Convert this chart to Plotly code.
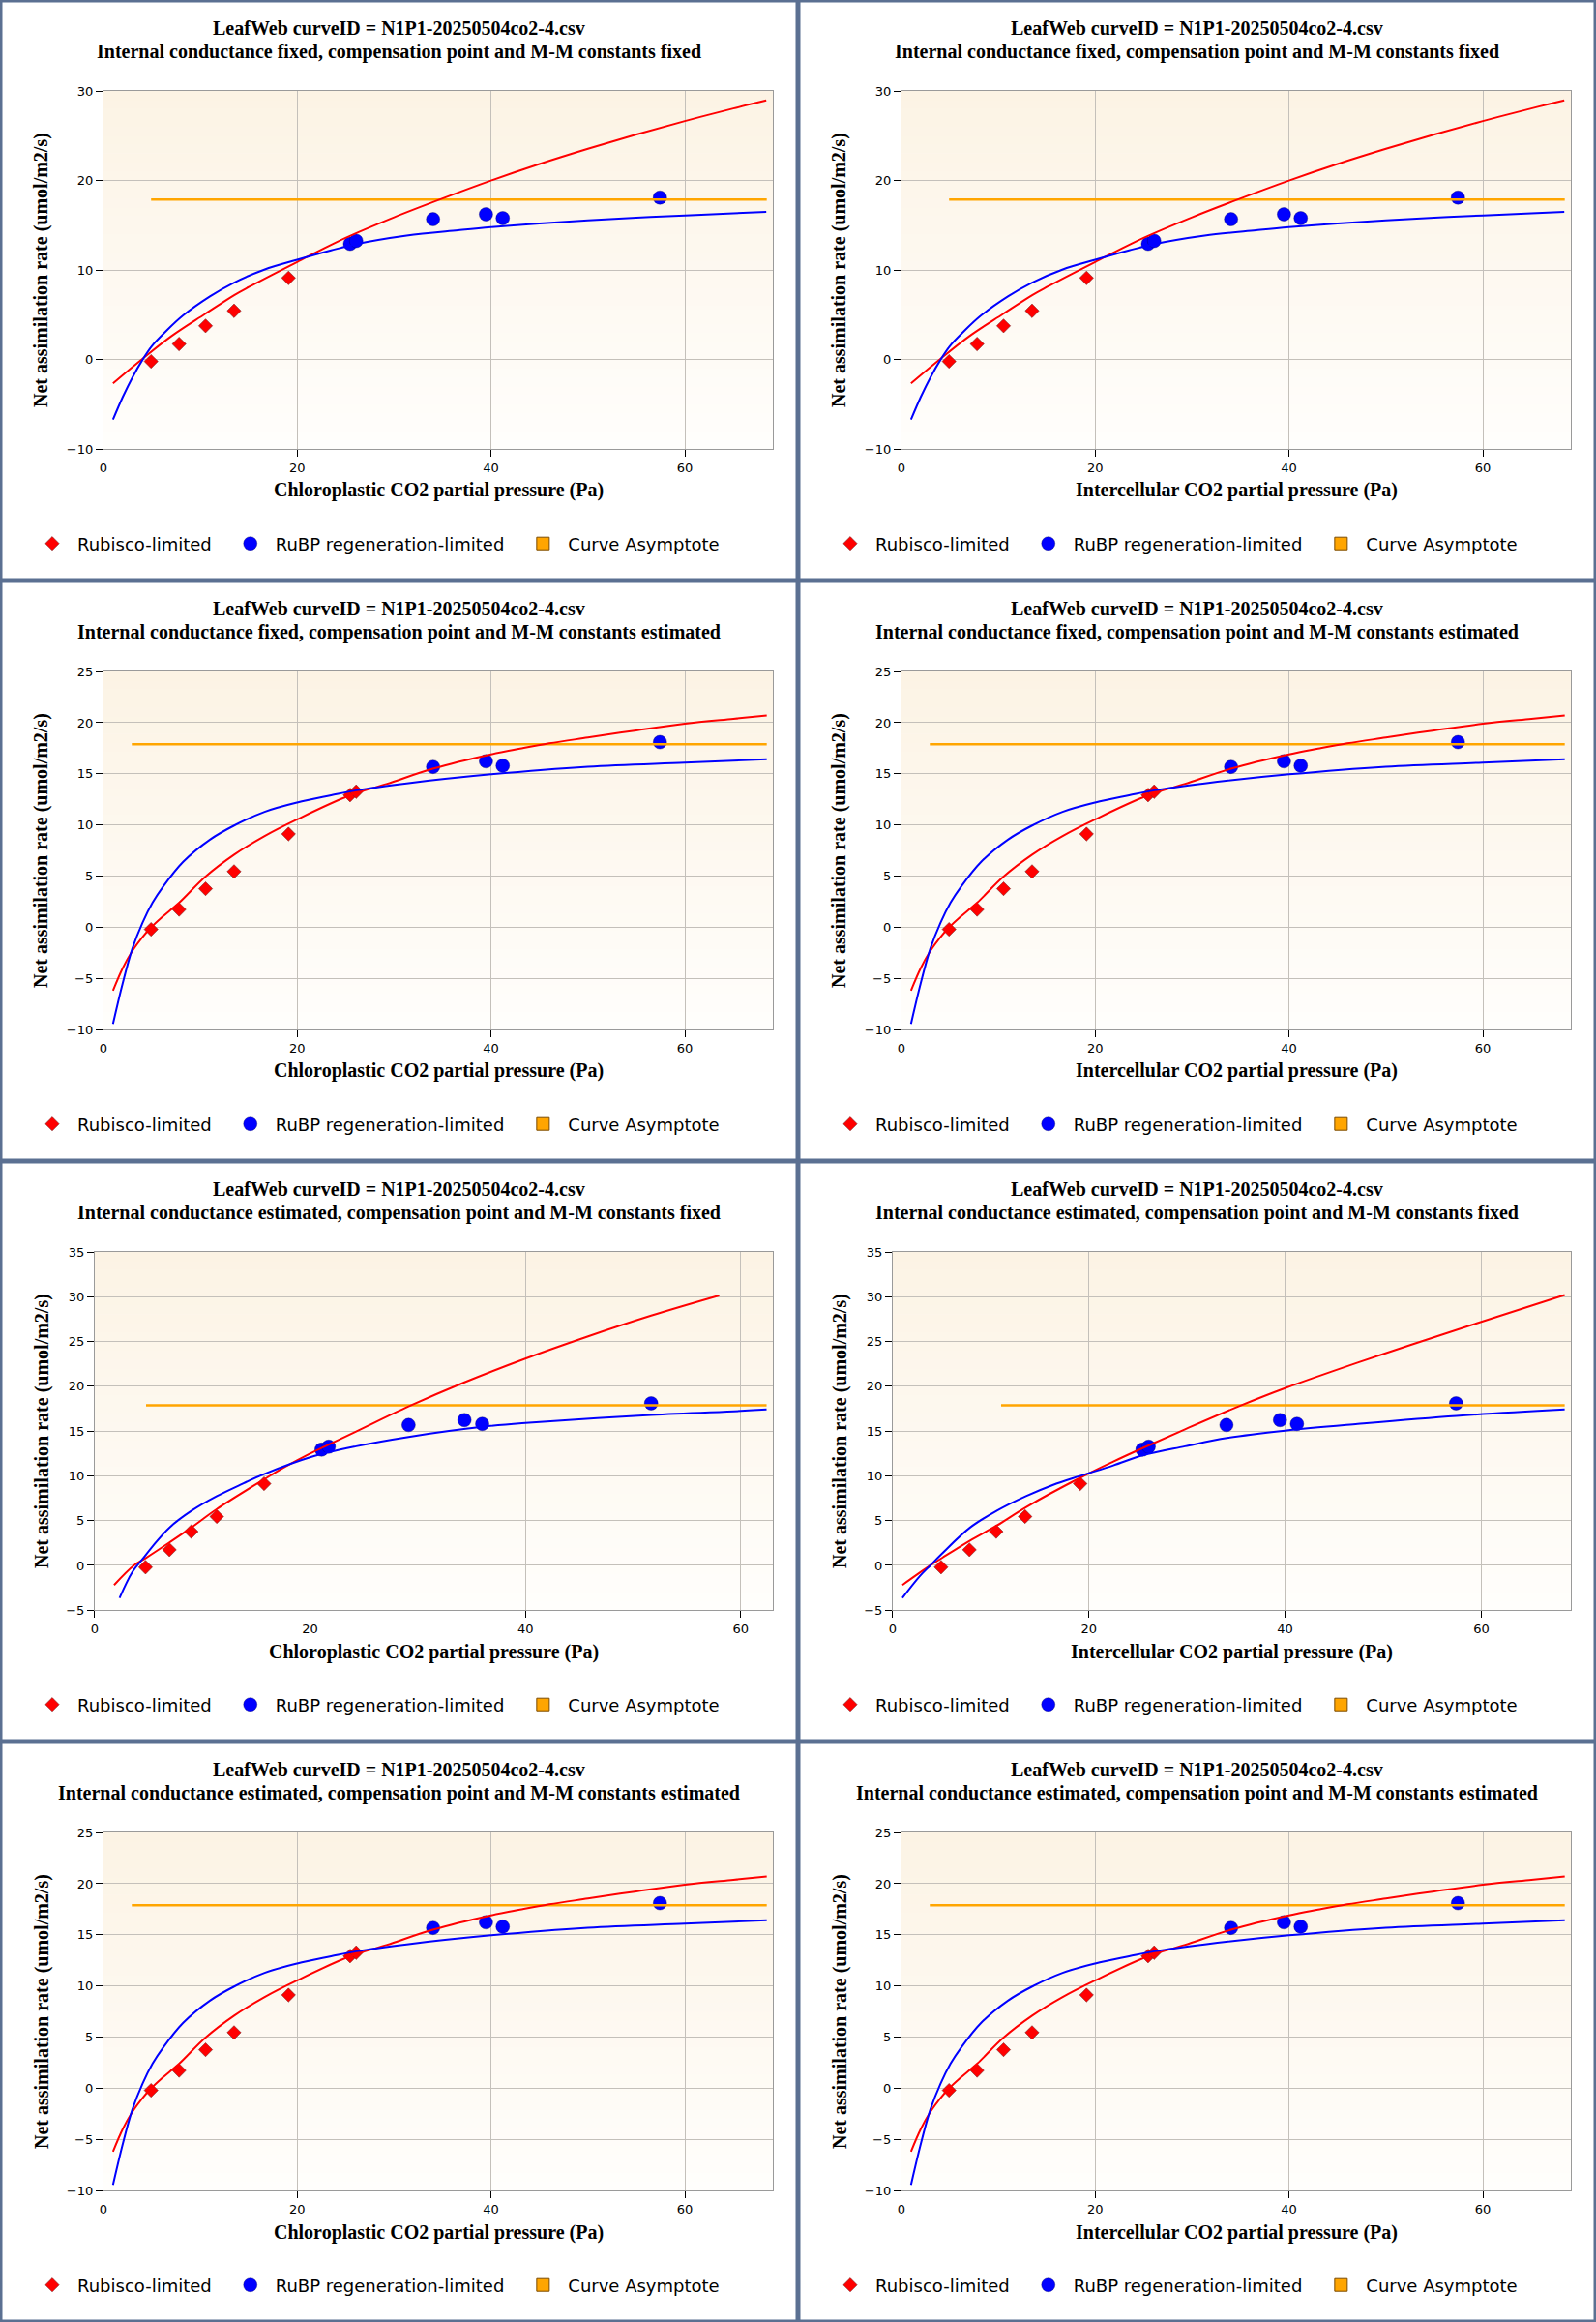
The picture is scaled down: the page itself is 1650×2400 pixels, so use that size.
import plotly.graph_objects as go

ci_x = [4.93, 7.82, 10.55, 13.49, 19.11, 25.46, 26.09, 34.02, 39.48, 41.21, 57.43]
cc_x_gm_est = [4.72, 6.94, 8.97, 11.34, 15.73, 21.07, 21.73, 29.15, 34.34, 35.99, 51.68]
a_net = [-0.2, 1.74, 3.77, 5.45, 9.12, 12.93, 13.26, 15.68, 16.23, 15.8, 18.1]

# gm fixed, Gamma*/Kc/Ko fixed (row 1, both columns)
ff_rub_x = [1.0, 4.0, 7.0, 10.5, 13.5, 15.0, 20.0, 25.0, 30.0, 35.0, 40.0, 45.0, 50.0, 55.0, 60.0, 65.0, 68.4]
ff_rub_y = [-2.65, 0.05, 2.6, 5.1, 7.2, 8.1, 10.9, 13.6, 15.9, 18.0, 20.0, 21.85, 23.55, 25.15, 26.65, 28.05, 28.95]
ff_rubp_x = [1.0, 2.0, 3.0, 4.0, 5.0, 6.5, 8.2, 11.0, 13.5, 16.6, 20.0, 23.5, 26.1, 31.3, 36.6, 40.0, 45.0, 50.0, 55.0, 60.0, 65.0, 68.4]
ff_rubp_y = [-6.7, -4.2, -2.0, -0.1, 1.5, 3.2, 4.9, 7.05, 8.6, 10.05, 11.15, 12.2, 12.9, 13.85, 14.45, 14.8, 15.2, 15.55, 15.85, 16.1, 16.35, 16.5]
ff_asym_x = [4.93, 68.45]
ff_asym_y = [17.88, 17.88]

# gm fixed, Gamma*/Kc/Ko estimated (rows 2 and 4, both columns)
fe_rub_x = [1.0, 2.0, 3.0, 4.0, 4.93, 6.0, 7.82, 10.55, 13.5, 16.6, 20.0, 25.46, 29.2, 34.0, 40.0, 43.0, 46.0, 50.0, 55.0, 60.0, 65.0, 68.45]
fe_rub_y = [-6.19, -4.0, -2.3, -1.0, 0.0, 0.95, 2.4, 4.96, 7.1, 8.9, 10.55, 12.9, 14.0, 15.5, 16.9, 17.46, 17.98, 18.55, 19.25, 19.9, 20.38, 20.7]
fe_rubp_x = [1.0, 1.94, 2.99, 4.04, 5.09, 6.14, 8.24, 11.0, 13.5, 16.64, 20.0, 23.5, 26.1, 31.3, 40.0, 50.0, 60.0, 68.45]
fe_rubp_y = [-9.44, -5.7, -2.1, 0.43, 2.42, 3.94, 6.4, 8.57, 9.95, 11.29, 12.2, 12.9, 13.39, 14.07, 14.95, 15.7, 16.1, 16.43]
fe_asym_x = [2.94, 68.45]
fe_asym_y = [17.9, 17.9]

# gm estimated, Gamma*/Kc/Ko fixed, chloroplastic (row 3, left)
ef_cc_rub_x = [1.8, 3.64, 4.72, 6.94, 8.97, 11.34, 15.73, 17.67, 20.0, 21.73, 24.28, 29.15, 34.34, 40.0, 45.5, 51.68, 58.0]
ef_cc_rub_y = [-2.19, 0.0, 0.8, 2.56, 4.22, 6.29, 9.6, 11.0, 12.5, 13.5, 14.95, 17.75, 20.45, 23.1, 25.45, 27.9, 30.15]
ef_cc_rubp_x = [2.31, 3.5, 4.44, 5.39, 6.94, 8.97, 11.34, 13.4, 15.73, 20.0, 24.28, 29.15, 35.99, 40.0, 51.68, 60.0, 62.4]
ef_cc_rubp_y = [-3.64, -0.74, 0.7, 2.15, 4.22, 6.08, 7.73, 8.93, 10.2, 12.08, 13.3, 14.35, 15.47, 15.9, 16.8, 17.25, 17.41]
ef_cc_asym_x = [4.77, 62.4]
ef_cc_asym_y = [17.87, 17.87]

# gm estimated, Gamma*/Kc/Ko fixed, intercellular (row 3, right)
ef_ci_rub_x = [0.99, 3.84, 5.03, 7.88, 10.58, 13.59, 19.14, 22.5, 25.47, 29.8, 35.5, 40.0, 47.4, 52.6, 60.0, 68.5]
ef_ci_rub_y = [-2.19, 0.0, 0.83, 2.77, 4.43, 6.5, 9.8, 11.6, 13.1, 15.2, 17.87, 19.8, 22.65, 24.55, 27.2, 30.2]
ef_ci_rubp_x = [0.99, 2.8, 3.84, 5.03, 7.88, 10.58, 13.59, 16.3, 19.14, 22.5, 25.47, 29.8, 34.08, 40.0, 47.4, 57.47, 68.5]
ef_ci_rubp_y = [-3.64, -1.16, 0.0, 1.32, 4.22, 6.08, 7.73, 8.97, 10.0, 11.17, 12.28, 13.3, 14.23, 15.05, 15.8, 16.7, 17.41]
ef_ci_asym_x = [11.05, 68.5]
ef_ci_asym_y = [17.87, 17.87]

title_top = "LeafWeb curveID = N1P1-20250504co2-4.csv"
subtitles = [
    "Internal conductance fixed, compensation point and M-M constants fixed",
    "Internal conductance fixed, compensation point and M-M constants estimated",
    "Internal conductance estimated, compensation point and M-M constants fixed",
    "Internal conductance estimated, compensation point and M-M constants estimated",
]
x_titles = ["Chloroplastic CO2 partial pressure (Pa)", "Intercellular CO2 partial pressure (Pa)"]
y_title = "Net assimilation rate (umol/m2/s)"
legend_names = ["Rubisco-limited", "RuBP regeneration-limited", "Curve Asymptote"]

# row, col, point x, how many points are Rubisco-limited, curves, axes
panels = [
    (0, 0, ci_x, 5, ff_rub_x, ff_rub_y, ff_rubp_x, ff_rubp_y, ff_asym_x, ff_asym_y, [0, 69.1], [-10, 30], 10),
    (0, 1, ci_x, 5, ff_rub_x, ff_rub_y, ff_rubp_x, ff_rubp_y, ff_asym_x, ff_asym_y, [0, 69.1], [-10, 30], 10),
    (1, 0, ci_x, 7, fe_rub_x, fe_rub_y, fe_rubp_x, fe_rubp_y, fe_asym_x, fe_asym_y, [0, 69.1], [-10, 25], 5),
    (1, 1, ci_x, 7, fe_rub_x, fe_rub_y, fe_rubp_x, fe_rubp_y, fe_asym_x, fe_asym_y, [0, 69.1], [-10, 25], 5),
    (2, 0, cc_x_gm_est, 5, ef_cc_rub_x, ef_cc_rub_y, ef_cc_rubp_x, ef_cc_rubp_y, ef_cc_asym_x, ef_cc_asym_y, [0, 63.0], [-5, 35], 5),
    (2, 1, ci_x, 5, ef_ci_rub_x, ef_ci_rub_y, ef_ci_rubp_x, ef_ci_rubp_y, ef_ci_asym_x, ef_ci_asym_y, [0, 69.15], [-5, 35], 5),
    (3, 0, ci_x, 7, fe_rub_x, fe_rub_y, fe_rubp_x, fe_rubp_y, fe_asym_x, fe_asym_y, [0, 69.1], [-10, 25], 5),
    (3, 1, ci_x, 7, fe_rub_x, fe_rub_y, fe_rubp_x, fe_rubp_y, fe_asym_x, fe_asym_y, [0, 69.1], [-10, 25], 5),
]

W, H = 1650, 2400
PW, PH = 825, 600
BORDER = "#5b7092"
SERIF = "Liberation Serif"
SANS = "DejaVu Sans"
GAP = "\u2002"  # a little extra room after a legend label, like the original spacing

fig = go.Figure()
layout = dict(width=W, height=H, margin=dict(l=0, r=0, t=0, b=0, autoexpand=False),
              paper_bgcolor="white", plot_bgcolor="rgba(0,0,0,0)")
shapes = []
annotations = []

for i, (row, col, px, n_rub, rx, ry, bx, by, ax, ay, xr, yr, dy) in enumerate(panels):
    k = "" if i == 0 else str(i + 1)
    ox, oy = col * PW, row * PH
    left = 106.8 if yr[0] == -10 else 97.9
    right, top, bottom = 799.2, 94.1, 464.2
    leg = "legend" + k

    common = dict(xaxis="x" + k, yaxis="y" + k, legend=leg)
    fig.add_trace(go.Scatter(x=px[:n_rub], y=a_net[:n_rub], mode="markers", name=legend_names[0] + GAP,
                             marker=dict(symbol="diamond", size=11, color="#ff0000",
                                         line=dict(color="rgba(110,40,40,0.7)", width=0.8)),
                             **common))
    fig.add_trace(go.Scatter(x=px[n_rub:], y=a_net[n_rub:], mode="markers", name=legend_names[1] + GAP,
                             marker=dict(symbol="circle", size=14, color="#0000ff",
                                         line=dict(color="rgba(0,0,90,0.6)", width=0.6)),
                             **common))
    # legend entry only for the asymptote (square swatch)
    fig.add_trace(go.Scatter(x=[None], y=[None], mode="markers", name=legend_names[2],
                             marker=dict(symbol="square", size=13, color="#ffa500",
                                         line=dict(color="#7a4a00", width=1)),
                             **common))
    fig.add_trace(go.Scatter(x=ax, y=ay, mode="lines", showlegend=False,
                             line=dict(color="#ffa500", width=2.5), **common))
    fig.add_trace(go.Scatter(x=rx, y=ry, mode="lines", showlegend=False, line_shape="spline",
                             line=dict(color="#ff0000", width=2), **common))
    fig.add_trace(go.Scatter(x=bx, y=by, mode="lines", showlegend=False, line_shape="spline",
                             line=dict(color="#0000ff", width=2), **common))

    axis_style = dict(showline=True, mirror=True, linecolor="#9a9a9a", linewidth=1,
                      showgrid=True, gridcolor="#c4c0ba", gridwidth=1, zeroline=False,
                      ticks="outside", ticklen=7, tickcolor="#000000", automargin=False,
                      tickfont=dict(family=SANS, size=13, color="#000000"))
    layout["xaxis" + k] = dict(axis_style, domain=[(ox + left) / W, (ox + right) / W],
                               range=xr, dtick=20, tick0=0, anchor="y" + k)
    layout["yaxis" + k] = dict(axis_style, domain=[1 - (oy + bottom) / H, 1 - (oy + top) / H],
                               range=yr, dtick=dy, tick0=0, anchor="x" + k)
    layout[leg] = dict(orientation="h", x=(ox + 28) / W, y=1 - (oy + 562) / H,
                       xanchor="left", yanchor="middle", bgcolor="rgba(0,0,0,0)", itemwidth=42,
                       font=dict(family=SANS, size=18, color="#000000"), itemclick=False)

    # plot background: warm cream at the top fading to white at the bottom
    n = 40
    for s in range(n):
        t = (s + 0.5) / n
        c = (round(255 - 3 * t), round(254 - 11 * t), round(252 - 24 * t))
        shapes.append(dict(type="rect", xref="x" + k + " domain", yref="y" + k + " domain",
                           x0=0, x1=1, y0=s / n, y1=(s + 1) / n + 0.002, layer="below",
                           fillcolor="rgb(%d,%d,%d)" % c, line=dict(width=0)))

    cx = (ox + PW / 2) / W
    annotations.append(dict(text="<b>" + title_top + "</b>", x=cx, y=1 - (oy + 29) / H,
                            xref="paper", yref="paper", showarrow=False, xanchor="center", yanchor="middle",
                            font=dict(family=SERIF, size=20, color="#000000")))
    annotations.append(dict(text="<b>" + subtitles[i // 2] + "</b>", x=cx, y=1 - (oy + 53) / H,
                            xref="paper", yref="paper", showarrow=False, xanchor="center", yanchor="middle",
                            font=dict(family=SERIF, size=20, color="#000000")))
    annotations.append(dict(text="<b>" + x_titles[col] + "</b>", x=(ox + (left + right) / 2) / W,
                            y=1 - (oy + 507) / H, xref="paper", yref="paper", showarrow=False,
                            xanchor="center", yanchor="middle",
                            font=dict(family=SERIF, size=20, color="#000000")))
    annotations.append(dict(text="<b>" + y_title + "</b>", x=(ox + 43) / W, y=1 - (oy + 279) / H,
                            xref="paper", yref="paper", showarrow=False, textangle=-90,
                            xanchor="center", yanchor="middle",
                            font=dict(family=SERIF, size=20, color="#000000")))

# panel frames
for xv in [0, 0.5, 1]:
    shapes.append(dict(type="line", xref="paper", yref="paper", x0=xv, x1=xv, y0=0, y1=1,
                       line=dict(color=BORDER, width=5), layer="above"))
for yv in [0, 0.25, 0.5, 0.75, 1]:
    shapes.append(dict(type="line", xref="paper", yref="paper", x0=0, x1=1, y0=yv, y1=yv,
                       line=dict(color=BORDER, width=5), layer="above"))

layout["shapes"] = shapes
layout["annotations"] = annotations
fig.update_layout(**layout)

# drop the default page margin so the figure sits at the window's top-left corner
fig.write_html("out.html", config={"displayModeBar": False},
               post_script="document.body.style.margin = '0';")
